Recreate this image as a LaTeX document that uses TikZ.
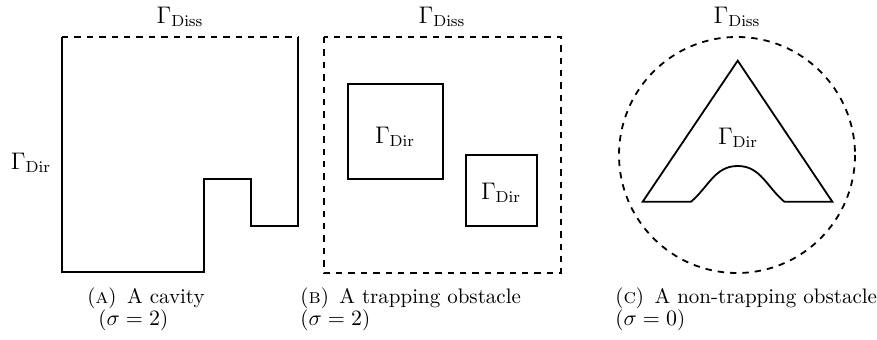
\documentclass[tikz,border=0pt]{standalone}
\usepackage{amsmath}
\newcommand{\lblsep}{\hskip 5.2pt\relax}
\begin{document}
\begin{tikzpicture}[x=0.5pt,y=-0.5pt,
  wall/.style={line width=0.9pt, line join=miter},
  diss/.style={line width=0.9pt, dash pattern=on 3.2pt off 3pt},
  lbl/.style={inner sep=0pt, font=\fontsize{12}{14.4}\selectfont},
  captxt/.style={inner sep=0pt, anchor=west, font=\fontsize{10.5}{12.8}\selectfont}]
\useasboundingbox (0,0) rectangle (877,340);
% ---------- Panel A ----------
\coordinate (a1) at (62,37);
\coordinate (a2) at (298,37);
\draw[diss] (a1) -- (a2);
\draw[wall] (a1) -- (62,272) -- (204,272) -- (204,179) -- (251,179) -- (251,226) -- (298,226) -- (a2);
\node[lbl] (adiss) at (180,17) {$\Gamma_{\mathrm{Diss}}$};
\node[lbl] (adir) at (31,163) {$\Gamma_{\mathrm{Dir}}$};
\node[captxt] (acap1) at (87,298) {(\textsc{a})\lblsep A cavity};
\node[captxt] (acap2) at (98,320) {($\sigma=2$)};
% ---------- Panel B ----------
\draw[diss] (324,37) rectangle (561,273);
\draw[wall] (348,84) rectangle (443,179);
\draw[wall] (466,155) rectangle (537,226);
\node[lbl] (bdiss) at (442,17) {$\Gamma_{\mathrm{Diss}}$};
\node[lbl] (bdir1) at (395,137) {$\Gamma_{\mathrm{Dir}}$};
\node[lbl] (bdir2) at (501,193) {$\Gamma_{\mathrm{Dir}}$};
\node[captxt] (bcap1) at (300,298) {(\textsc{b})\lblsep A trapping obstacle};
\node[captxt] (bcap2) at (300,320) {($\sigma=2$)};
% ---------- Panel C ----------
\draw[diss] (737,155) circle[radius=118];
\draw[wall] (737.7,60.7) -- (832.3,201.7) -- (784.3,201.7)
  to[out=140,in=0] (737.7,166) to[out=180,in=40] (691,201.7) -- (642.7,201.7) -- cycle;
\node[lbl] (cdiss) at (737,17) {$\Gamma_{\mathrm{Diss}}$};
\node[lbl] (cdir) at (738,138) {$\Gamma_{\mathrm{Dir}}$};
\node[captxt] (ccap1) at (615,298) {(\textsc{c})\lblsep A non-trapping obstacle};
\node[captxt] (ccap2) at (615,320) {($\sigma=0$)};
\end{tikzpicture}
\end{document}
